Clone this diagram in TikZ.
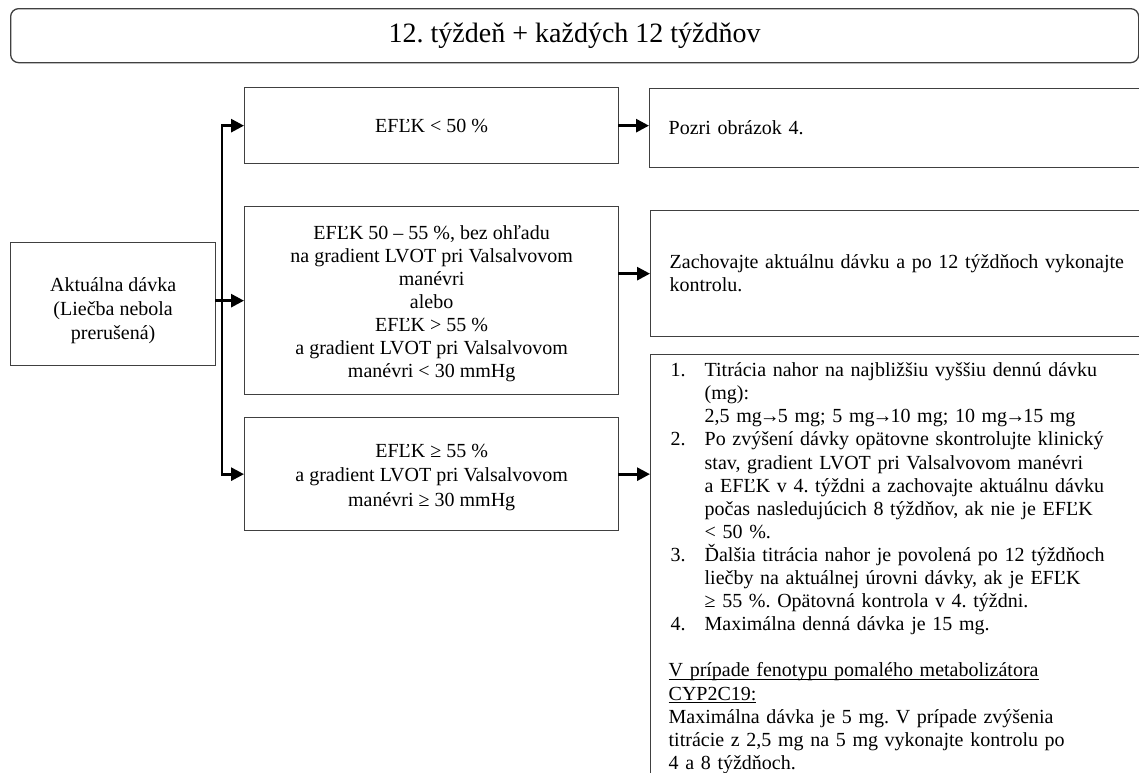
\documentclass[tikz,border=0pt]{standalone}
\usepackage{fontspec}
\setmainfont{Liberation Serif}
\usetikzlibrary{arrows.meta}
% underline that sits just below the baseline and crosses descenders
\newsavebox{\ulbox}
\newcommand{\wordline}[1]{\mbox{\sbox{\ulbox}{#1}\rlap{\usebox{\ulbox}}\rule[-2.6pt]{\wd\ulbox}{0.9pt}}}
\newcommand{\itemno}[1]{\makebox[36pt][l]{\hspace*{2pt}#1}}
\newcommand{\itemcont}{\hspace*{36pt}}
\newcommand{\doseto}{\kern-2pt→\kern-2pt}
\begin{document}
\frenchspacing
\begin{tikzpicture}[x=1pt,y=-1pt,
  boxline/.style={draw=black!75, line width=1.3pt},
  cbox/.style={boxline, inner sep=0pt, anchor=north west, align=center,
    font=\fontsize{20}{23}\selectfont},
  rbox/.style={boxline, anchor=north west, inner xsep=19pt, inner ysep=0pt,
    text width=480pt, align=left, font=\fontsize{20}{23}\selectfont},
  arr/.style={line width=2.8pt, line cap=rect, -{Triangle[length=13pt,width=13pt]}},
  trunkline/.style={line width=2.8pt, line cap=rect}]
\useasboundingbox (0,0) rectangle (1139,772);
\fill[white] (0,0) rectangle (1139,772);
\clip (0,0) rectangle (1139,772);

% heading
\node[boxline, rounded corners=8pt, anchor=north west, minimum width=1128,
  minimum height=54, inner sep=0pt, font=\fontsize{28}{32}\selectfont]
  (title) at (10,8) {12. týždeň + každých 12 týždňov};

% current dose
\node[cbox, minimum width=205, minimum height=123,
  font=\fontsize{20}{24}\selectfont] (cur) at (10,242)
  {\rule{0pt}{26pt}Aktuálna dávka\\(Liečba nebola\\prerušená)};

% conditions
\node[cbox, minimum width=374, minimum height=76] (cA) at (244,87)
  {EFĽK < 50 \%};
\node[cbox, minimum width=374, minimum height=188] (cB) at (244,206)
  {\rule{0pt}{20pt}EFĽK 50 – 55 \%, bez ohľadu\\na gradient LVOT pri Valsalvovom\\manévri\\alebo\\EFĽK > 55 \%\\a gradient LVOT pri Valsalvovom\\manévri < 30 mmHg};
\node[cbox, minimum width=374, minimum height=113,
  font=\fontsize{20}{24.5}\selectfont] (cC) at (244,417)
  {\rule{0pt}{19pt}EFĽK ≥ 55 \%\\a gradient LVOT pri Valsalvovom\\manévri ≥ 30 mmHg};

% actions
\node[rbox, minimum height=79] (r1) at (649,88) {Pozri obrázok 4.};
\node[rbox, minimum height=126] (r2) at (650,210)
  {Zachovajte aktuálnu dávku a po 12 týždňoch vykonajte\\kontrolu.};
\node[rbox, inner xsep=18pt] (r3) at (650,354)
  {\parbox[t][440pt][t]{480pt}{\fontsize{20}{23.1}\selectfont\raggedright
  \rule{0pt}{22pt}\itemno{1.}Titrácia nahor na najbližšiu vyššiu dennú dávku\\
  \itemcont(mg):\\
  \itemcont2,5 mg\doseto5 mg; 5 mg\doseto10 mg; 10 mg\doseto15 mg\\
  \itemno{2.}Po zvýšení dávky opätovne skontrolujte klinický\\
  \itemcont stav, gradient LVOT pri Valsalvovom manévri\\
  \itemcont a EFĽK v 4. týždni a zachovajte aktuálnu dávku\\
  \itemcont počas nasledujúcich 8 týždňov, ak nie je EFĽK\\
  \itemcont< 50 \%.\\
  \itemno{3.}Ďalšia titrácia nahor je povolená po 12 týždňoch\\
  \itemcont liečby na aktuálnej úrovni dávky, ak je EFĽK\\
  \itemcont≥ 55 \%. Opätovná kontrola v 4. týždni.\\
  \itemno{4.}Maximálna denná dávka je 15 mg.\\
  \mbox{}\\
  \wordline{V prípade fenotypu pomalého metabolizátora}\\
  \wordline{CYP2C19:}\\
  Maximálna dávka je 5 mg. V prípade zvýšenia\\
  titrácie z 2,5 mg na 5 mg vykonajte kontrolu po\\
  4 a 8 týždňoch.}};

% connectors
\coordinate (trunk) at (222,0);
\draw[arr] (cB.west -| cur.east) -- (cB.west);
\draw[trunkline] (trunk |- cA.west) -- (trunk |- cC.west);
\draw[arr] (trunk |- cA.west) -- (cA.west);
\draw[arr] (trunk |- cC.west) -- (cC.west);
\draw[arr] (cA.east) -- (cA.east -| r1.west);
\draw[arr] (r2.west -| cB.east) -- (r2.west);
\draw[arr] (cC.east) -- (cC.east -| r3.west);
\end{tikzpicture}
\end{document}
